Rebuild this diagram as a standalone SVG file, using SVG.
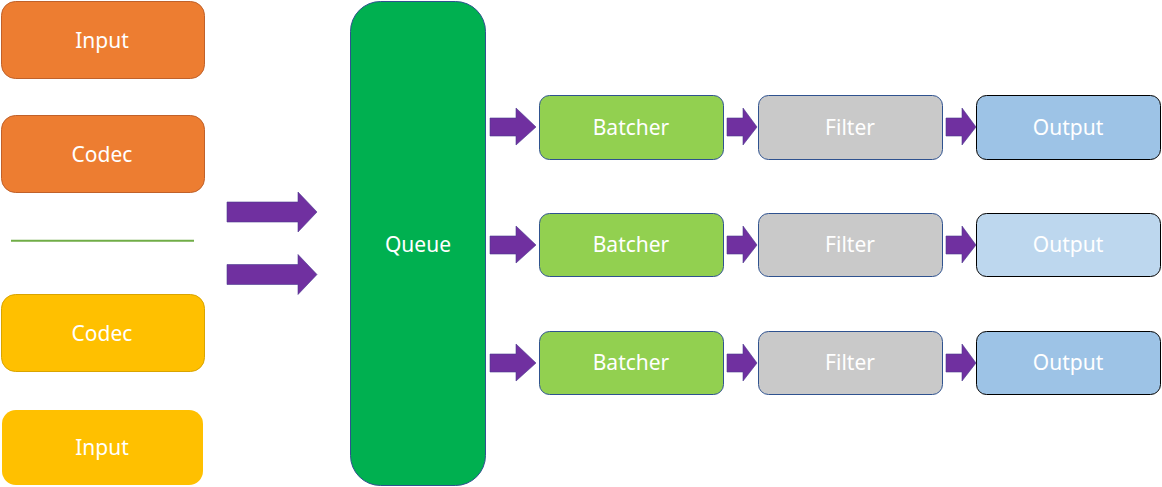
<svg xmlns="http://www.w3.org/2000/svg" width="1162" height="487" viewBox="0 0 1162 487">
<style>
text{font-family:"Noto Sans","Open Sans","Liberation Sans",sans-serif;font-size:21px;fill:#fff;text-anchor:middle}
.org{fill:#ED7D31;stroke:#C0612A;stroke-width:1}
.yel{fill:#FFC000;stroke:#D9A400;stroke-width:1}
.bat{fill:#92D050;stroke:#2F528F;stroke-width:1}
.fil{fill:#C9C9C9;stroke:#2F528F;stroke-width:1}
.out{fill:#9DC3E6;stroke:#000;stroke-width:1}
.out2{fill:#BDD7EE;stroke:#000;stroke-width:1}
.arr{fill:#7030A0;stroke:#4A3A8F;stroke-width:0.6}
</style>
<defs>
<path id="big" d="M0,-10 H71 V-20 L90,0 L71,20 V10 H0 Z"/>
<path id="sm" d="M0,-9 H26 V-19 L46,0 L26,18 V9 H0 Z"/>
<path id="sm2" d="M0,-9 H16 V-19 L30,0 L16,18 V9 H0 Z"/>
</defs>
<g id="input1"><rect class="org" x="1.5" y="1.5" width="203" height="77" rx="14"/><text x="102" y="48">Input</text></g>
<g id="codec1"><rect class="org" x="1.5" y="115.5" width="203" height="77" rx="14"/><text x="102" y="162">Codec</text></g>
<g id="separator"><line x1="11" y1="240.7" x2="194" y2="240.7" stroke="#70AD47" stroke-width="2"/></g>
<g id="codec2"><rect class="yel" x="1.5" y="294.5" width="203" height="77" rx="14"/><text x="102" y="341">Codec</text></g>
<g id="input2"><rect x="2" y="410" width="201" height="75" rx="14" fill="#FFC000"/><text x="102" y="455">Input</text></g>
<g id="queue"><rect x="350.5" y="1.5" width="135" height="484" rx="30" fill="#00B050" stroke="#2F528F" stroke-width="1"/><text x="418" y="252">Queue</text></g>
<g id="batcher1"><rect class="bat" x="539.5" y="95.5" width="184" height="64" rx="10"/><text x="631" y="135">Batcher</text></g>
<g id="filter1"><rect class="fil" x="758.5" y="95.5" width="184" height="64" rx="10"/><text x="850" y="135">Filter</text></g>
<g id="output1"><rect class="out" x="976.5" y="95.5" width="184" height="64" rx="10"/><text x="1068" y="135">Output</text></g>
<g id="batcher2"><rect class="bat" x="539.5" y="213.5" width="184" height="63" rx="10"/><text x="631" y="252">Batcher</text></g>
<g id="filter2"><rect class="fil" x="758.5" y="213.5" width="184" height="63" rx="10"/><text x="850" y="252">Filter</text></g>
<g id="output2"><rect class="out2" x="976.5" y="213.5" width="184" height="63" rx="10"/><text x="1068" y="252">Output</text></g>
<g id="batcher3"><rect class="bat" x="539.5" y="331.5" width="184" height="63" rx="10"/><text x="631" y="370">Batcher</text></g>
<g id="filter3"><rect class="fil" x="758.5" y="331.5" width="184" height="63" rx="10"/><text x="850" y="370">Filter</text></g>
<g id="output3"><rect class="out" x="976.5" y="331.5" width="184" height="63" rx="10"/><text x="1068" y="370">Output</text></g>
<g id="connectors">
<use href="#big" class="arr" transform="translate(227,212)"/>
<use href="#big" class="arr" transform="translate(227,274.5)"/>
<use href="#sm" class="arr" transform="translate(490,127)"/>
<use href="#sm" class="arr" transform="translate(490,245)"/>
<use href="#sm" class="arr" transform="translate(490,363)"/>
<use href="#sm2" class="arr" transform="translate(727,127)"/>
<use href="#sm2" class="arr" transform="translate(727,245)"/>
<use href="#sm2" class="arr" transform="translate(727,363)"/>
<use href="#sm2" class="arr" transform="translate(946,127)"/>
<use href="#sm2" class="arr" transform="translate(946,245)"/>
<use href="#sm2" class="arr" transform="translate(946,363)"/>
</g>
</svg>
